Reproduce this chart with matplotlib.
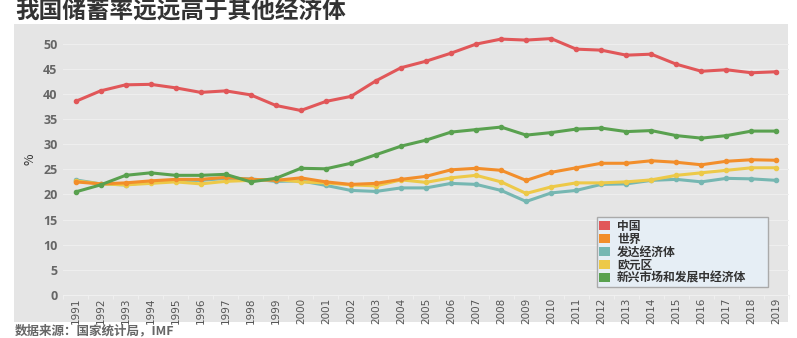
import numpy as np
import matplotlib
matplotlib.use('Agg')
import matplotlib.pyplot as plt
from matplotlib.patches import Rectangle, Patch

plt.rcParams['font.family'] = ['Noto Sans CJK SC', 'DejaVu Sans']

# 数据
years = [str(y) for y in range(1991, 2020)]
china = [38.5, 40.6, 41.8, 41.9, 41.2, 40.3, 40.6, 39.8, 37.7, 36.7, 38.5, 39.5, 42.6, 45.2,
         46.5, 48.1, 49.9, 50.9, 50.7, 51.0, 48.9, 48.7, 47.7, 47.9, 45.9, 44.5, 44.8, 44.2, 44.4]
world = [22.5, 22.1, 22.3, 22.7, 23.0, 23.0, 23.4, 23.0, 22.8, 23.3, 22.5, 22.0, 22.2, 23.0,
         23.6, 24.9, 25.2, 24.8, 22.8, 24.4, 25.3, 26.2, 26.2, 26.7, 26.4, 25.9, 26.6, 26.9, 26.8]
developed = [22.9, 22.1, 21.9, 22.5, 22.8, 22.8, 23.2, 23.1, 22.6, 22.7, 21.8, 20.8, 20.6, 21.3,
             21.3, 22.2, 22.0, 20.8, 18.6, 20.3, 20.8, 22.0, 22.1, 22.8, 23.0, 22.5, 23.2, 23.1, 22.8]
euro = [22.7, 22.1, 21.9, 22.2, 22.5, 22.1, 22.6, 22.8, 23.0, 22.5, 22.3, 21.9, 21.7, 22.9,
        22.4, 23.3, 23.8, 22.5, 20.2, 21.5, 22.3, 22.3, 22.5, 22.9, 23.8, 24.3, 24.8, 25.3, 25.3]
emerging = [20.5, 21.9, 23.8, 24.3, 23.8, 23.8, 24.0, 22.5, 23.2, 25.2, 25.1, 26.2, 27.9, 29.6,
            30.8, 32.4, 32.9, 33.4, 31.8, 32.3, 33.0, 33.2, 32.5, 32.7, 31.7, 31.2, 31.7, 32.6, 32.6]

names = ['中国', '世界', '发达经济体', '欧元区', '新兴市场和发展中经济体']
colors = ['#e15759', '#f28e2b', '#76b7b2', '#edc948', '#59a14f']

W, H = 797, 338
fig = plt.figure(figsize=(W / 100, H / 100), dpi=100)

# 灰色背景面板
fig.patches.append(Rectangle((14 / W, (H - 322) / H), 774 / W, 298 / H,
                             transform=fig.transFigure, facecolor='#e5e5e5',
                             edgecolor='none', zorder=-5))

ax = fig.add_axes([63 / W, (H - 295) / H, (789 - 63) / W, (295 - 24) / H])
ax.set_facecolor('none')

x = np.arange(len(years))
series = [china, world, developed, euro, emerging]
order = [2, 3, 1, 4, 0]
for i in order:
    ax.plot(x, series[i], color=colors[i], lw=2.2, marker='o', ms=3,
            solid_capstyle='round', zorder=3 + order.index(i))

ax.set_xlim(-0.5, len(years) - 0.5)
ax.set_ylim(0, 53.9)
ax.set_yticks(range(0, 51, 5))
ax.set_xticks(x)
ax.set_xticklabels(years, rotation=90, color='#555555', fontsize=7.5,
                   family=['Liberation Sans Narrow', 'DejaVu Sans'])
for lab in ax.get_yticklabels():
    lab.set_family(['Open Sans', 'DejaVu Sans'])
    lab.set_fontweight('bold')
    lab.set_fontsize(9)
    lab.set_color('#666666')
ax.tick_params(axis='both', length=0, pad=4)
ax.tick_params(axis='x', pad=2)
ax.set_xticks(np.arange(-0.5, len(years), 1), minor=True)
ax.tick_params(axis='x', which='minor', length=3, color='#f2f2f2')
ax.grid(axis='y', color='#eeeeee', lw=0.8, zorder=1)
for s in ['top', 'right', 'left']:
    ax.spines[s].set_visible(False)
ax.spines['bottom'].set_color('#f0f0f0')

ax.set_ylabel('%', fontsize=9, color='#333333', labelpad=5)

handles = [Patch(facecolor=c, edgecolor='none') for c in colors]
leg = fig.legend(handles, names, loc='lower left',
                 bbox_to_anchor=(597 / W, (H - 287) / H, 171 / W, 60 / H),
                 mode='expand', labelspacing=0.0, handlelength=0.9,
                 handleheight=0.7, handletextpad=0.6, borderpad=0.2,
                 borderaxespad=0, frameon=True, fancybox=False,
                 prop={'weight': 'bold', 'size': 8.5})
leg.get_frame().set_facecolor('#e6eef5')
leg.get_frame().set_edgecolor('#aaaaaa')
leg.get_frame().set_alpha(1)
for t in leg.get_texts():
    t.set_color('#333333')

fig.text(15 / W, 1 - 12 / H, '我国储蓄率远远高于其他经济体', fontsize=17,
         fontweight='bold', color='#333333', va='center', ha='left')
fig.text(15 / W, 1 - 331 / H, '数据来源：国家统计局，IMF', fontsize=9,
         color='#666666', va='center', ha='left', fontweight='bold', style='italic')

fig.savefig('out.png', dpi=100)
